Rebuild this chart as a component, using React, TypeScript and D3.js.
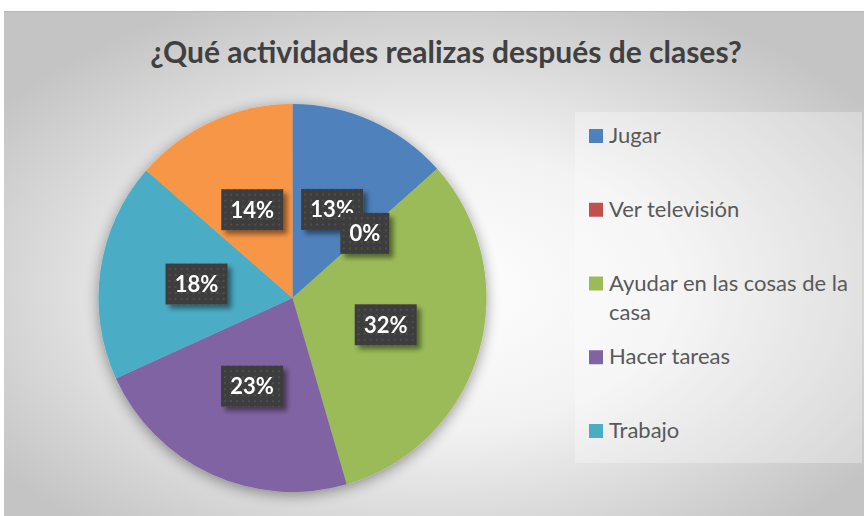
import React from "react";
import * as d3 from "d3";

const categories = ["Jugar", "Ver televisión", "Ayudar en las cosas de la casa", "Hacer tareas", "Trabajo", "Otros"];
const values = [13.4, 0, 32.1, 22.7, 18.2, 13.6];
const colors = ["#4F81BD", "#C0504D", "#9BBB59", "#8064A2", "#4BACC6", "#F79646"];
const legendLines = [["Jugar"], ["Ver televisión"], ["Ayudar en las cosas de la", "casa"], ["Hacer tareas"], ["Trabajo"]];
const title = "¿Qué actividades realizas después de clases?";

const W = 864, H = 516;
const cx = 292.5, cy = 298, R = 194;

export default function App() {
  const data = categories.map((c, i) => ({ c, v: values[i], color: colors[i] }));
  const pie = d3.pie<any>().sort(null).value((d) => d.v);
  const arcs = pie(data);
  const arc = d3.arc<any>().innerRadius(0).outerRadius(R);
  const labelArc = d3.arc<any>().innerRadius(R * 0.5).outerRadius(R * 0.5);
  const fmt = d3.format(".0%");
  const total = d3.sum(values);
  const legendY = d3.scaleLinear().domain([0, 4]).range([136, 431]);

  return (
    <svg width={W} height={H} style={{ position: "absolute", left: 0, top: 0 }} fontFamily="Lato, 'Open Sans', sans-serif">
      <defs>
        <radialGradient id="bg" cx="50%" cy="55%" r="62%">
          <stop offset="0%" stopColor="#ffffff" />
          <stop offset="45%" stopColor="#f2f2f2" />
          <stop offset="100%" stopColor="#c4c4c4" />
        </radialGradient>
        <filter id="pieShadow" x="-20%" y="-20%" width="140%" height="140%">
          <feGaussianBlur in="SourceAlpha" stdDeviation="7" />
          <feOffset dx="0" dy="3" result="b" />
          <feComponentTransfer><feFuncA type="linear" slope="0.4" /></feComponentTransfer>
          <feMerge><feMergeNode /><feMergeNode in="SourceGraphic" /></feMerge>
        </filter>
        <filter id="boxShadow" x="-30%" y="-30%" width="160%" height="160%">
          <feGaussianBlur in="SourceAlpha" stdDeviation="2.5" />
          <feOffset dx="4" dy="4" result="b" />
          <feComponentTransfer><feFuncA type="linear" slope="0.45" /></feComponentTransfer>
          <feMerge><feMergeNode /><feMergeNode in="SourceGraphic" /></feMerge>
        </filter>
        <pattern id="dots" width="6" height="6" patternUnits="userSpaceOnUse">
          <rect width="6" height="6" fill="#3d3d3d" />
          <circle cx="3" cy="3" r="1" fill="#555555" />
        </pattern>
      </defs>
      <rect x={0} y={0} width={W} height={H} fill="#ffffff" />
      <rect x={4} y={11} width={W - 4} height={H - 11} fill="url(#bg)" />
      <line x1={4} x2={W} y1={11.5} y2={11.5} stroke="#b8b8b8" />
      <text x={446} y={63} textAnchor="middle" fontSize={30} fontWeight="bold" fill="#404040">{title}</text>

      <g filter="url(#pieShadow)">
        {arcs.map((a, i) => (
          <path key={i} d={arc(a) as string} transform={`translate(${cx},${cy})`} fill={a.data.color} />
        ))}
      </g>

      {arcs.map((a, i) => {
        const [lx, ly] = labelArc.centroid(a);
        const label = fmt(a.data.v / total);
        const w = label.length === 2 ? 49 : 62;
        const h = 41;
        return (
          <g key={"l" + i} transform={`translate(${cx + lx},${cy + ly})`}>
            <rect x={-w / 2} y={-h / 2} width={w} height={h} fill="url(#dots)" filter="url(#boxShadow)" />
            <text x={0} y={8} textAnchor="middle" fontSize={22} fontWeight="bold" fill="#ffffff">{label}</text>
          </g>
        );
      })}

      <rect x={575} y={112} width={287} height={351} fill="#ffffff" opacity={0.3} />
      {legendLines.map((lines, i) => (
        <g key={"lg" + i} transform={`translate(589,${legendY(i)})`}>
          <rect x={0} y={-7} width={14} height={14} fill={colors[i]} />
          {lines.map((t, j) => (
            <text key={j} x={20} y={7 + j * 29} fontSize={22} fill="#595959">{t}</text>
          ))}
        </g>
      ))}
    </svg>
  );
}
